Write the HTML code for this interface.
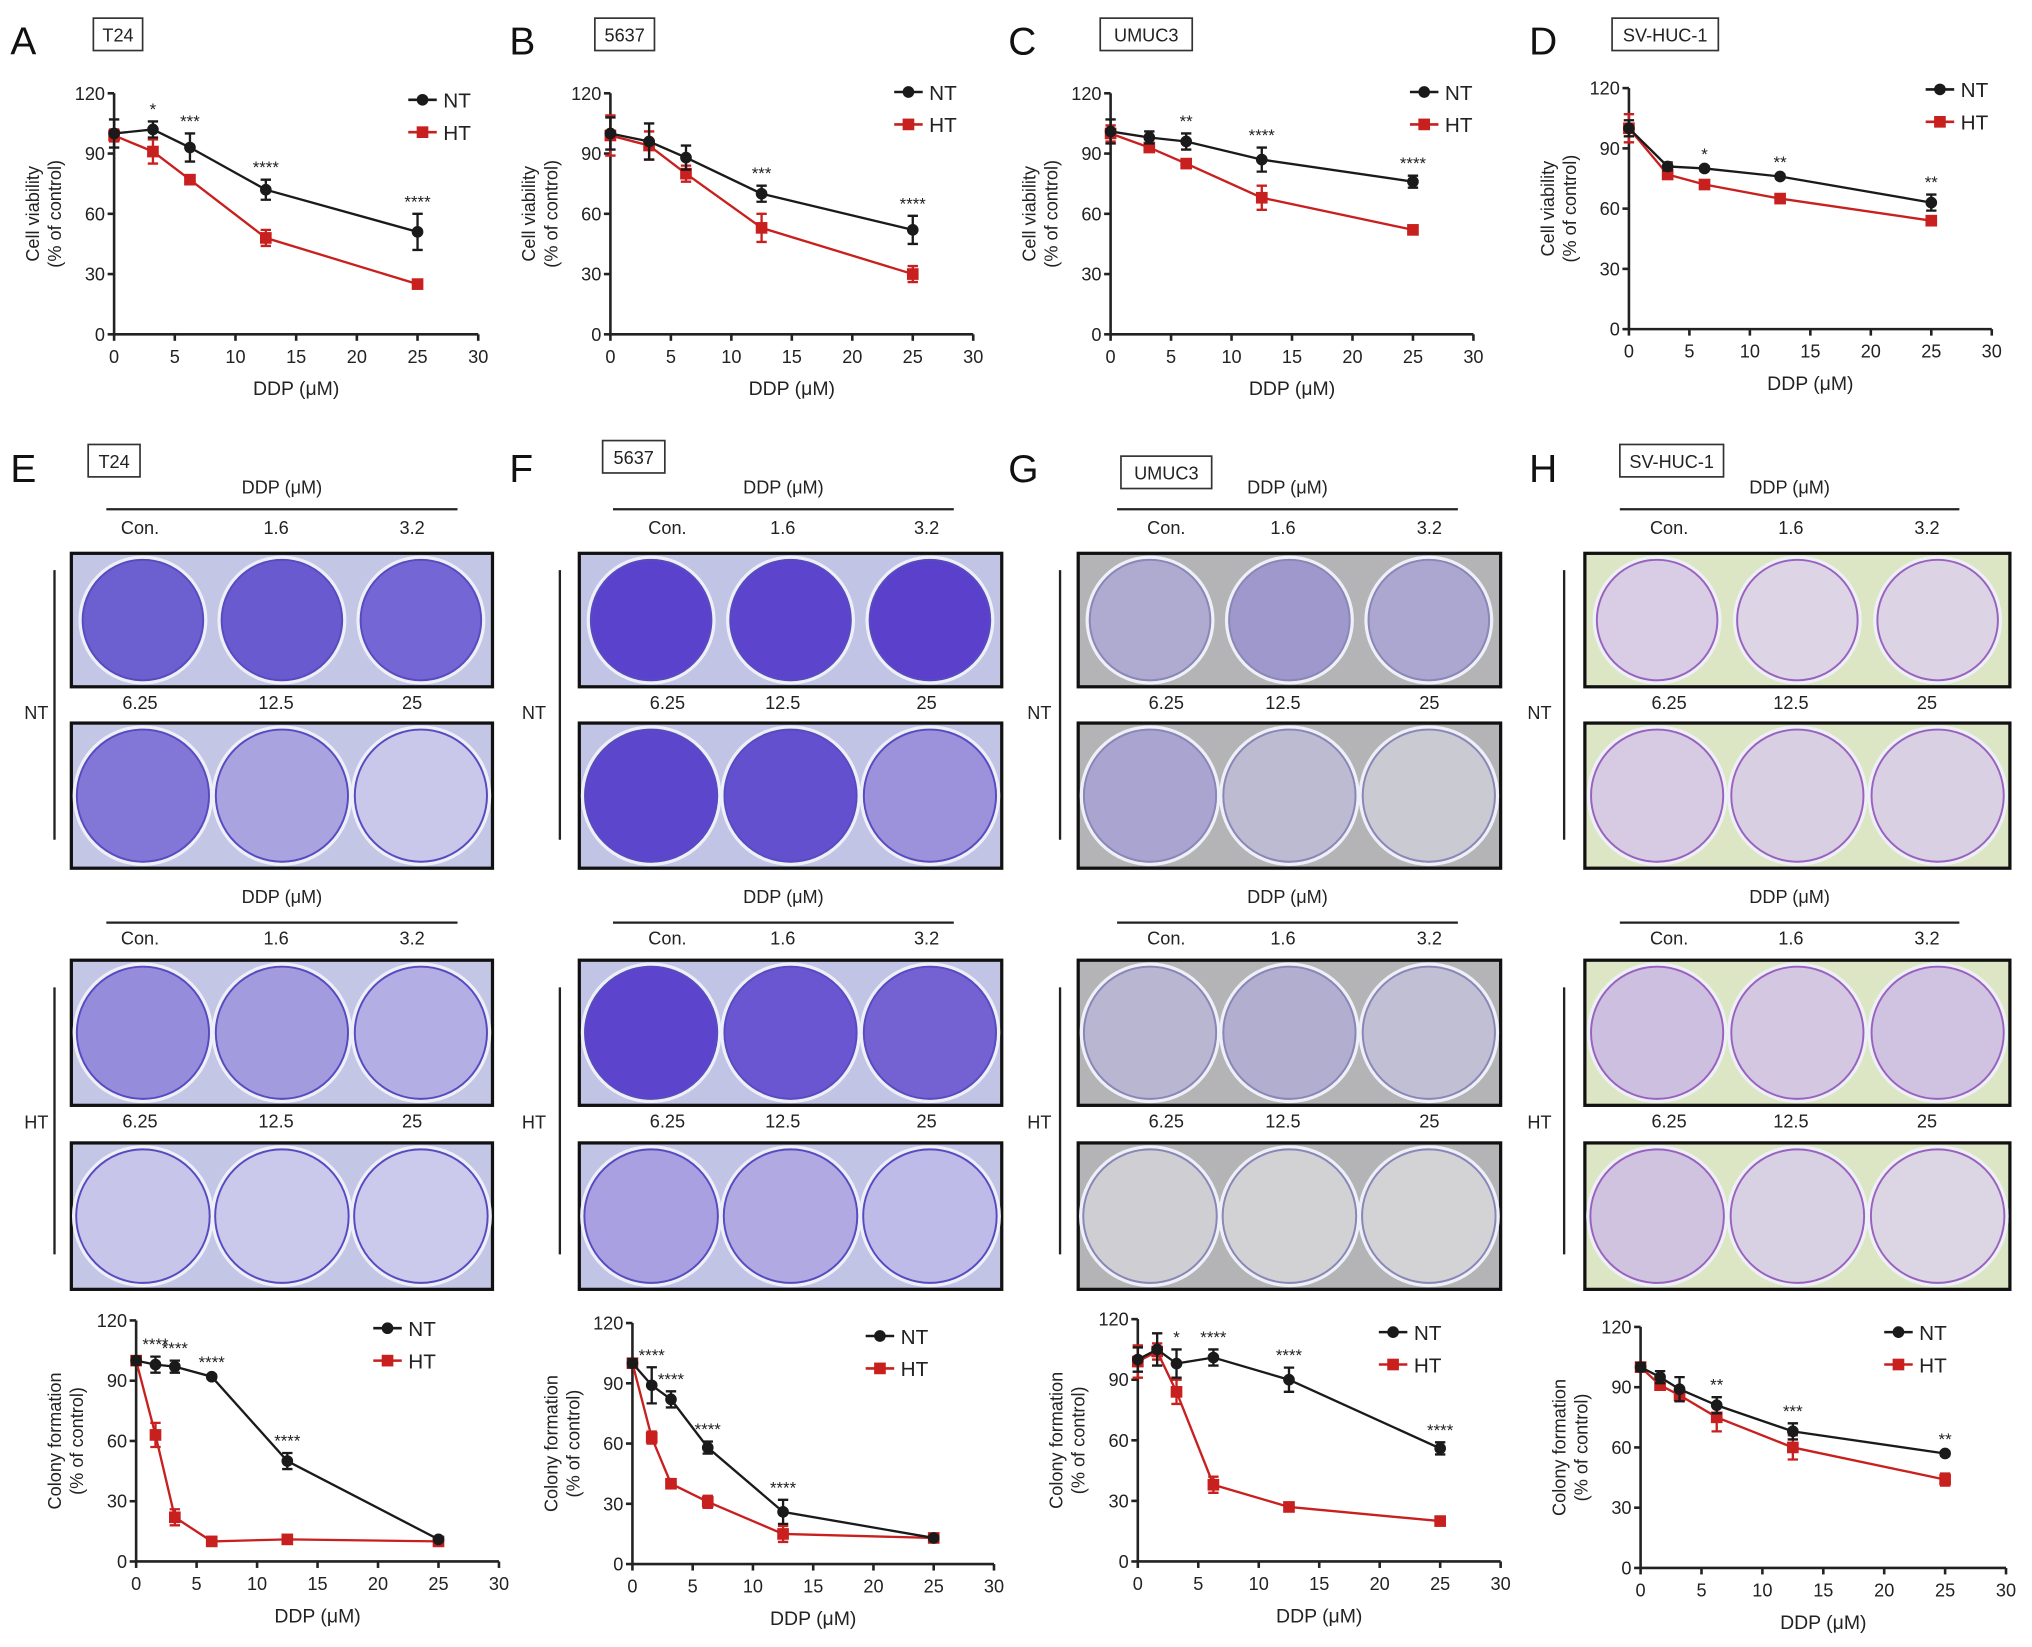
<!DOCTYPE html>
<html><head><meta charset="utf-8"><style>
html,body{margin:0;padding:0;background:#fff}
svg{display:block}
text{font-family:"Liberation Sans",Arial,sans-serif}
</style></head><body>
<svg id="fig" width="2032" height="1647" viewBox="0 0 1568 1271" xmlns="http://www.w3.org/2000/svg">
</svg>
<script>
// ---------- chart data ----------
const xsTop = [0, 3.2, 6.25, 12.5, 25];
const xsBot = [0, 1.6, 3.2, 6.25, 12.5, 25];
const yTicks = [0, 30, 60, 90, 120];
const xTicks = [0, 5, 10, 15, 20, 25, 30];
const aNT = [100, 102, 93, 72, 51];
const aHT = [99, 91, 77, 48, 25];
const aNTe = [7, 4, 7, 5, 9];
const aHTe = [3, 6, 2, 4, 1];
const aStars = ["", "*", "***", "****", "****"];
const bNT = [100, 96, 88, 70, 52];
const bHT = [99, 94, 80, 53, 30];
const bNTe = [8, 9, 6, 4, 7];
const bHTe = [10, 7, 4, 7, 4];
const bStars = ["", "", "", "***", "****"];
const cNT = [101, 98, 96, 87, 76];
const cHT = [100, 93, 85, 68, 52];
const cNTe = [6, 3, 4, 6, 3];
const cHTe = [4, 2, 2, 6, 1];
const cStars = ["", "", "**", "****", "****"];
const dNT = [100, 81, 80, 76, 63];
const dHT = [100, 77, 72, 65, 54];
const dNTe = [4, 2, 1, 1, 4];
const dHTe = [7, 2, 1, 1, 2];
const dStars = ["", "", "*", "**", "**"];
const eNT = [100, 98, 97, 92, 50, 11];
const eHT = [100, 63, 22, 10, 11, 10];
const eNTe = [2, 4, 3, 1, 4, 1];
const eHTe = [2, 6, 4, 1, 1, 1];
const eStars = ["", "****", "****", "****", "****", ""];
const fNT = [100, 89, 82, 58, 26, 13];
const fHT = [100, 63, 40, 31, 15, 13];
const fNTe = [2, 9, 4, 3, 6, 1];
const fHTe = [2, 3, 1, 3, 4, 1];
const fStars = ["", "****", "****", "****", "****", ""];
const gNT = [100, 105, 98, 101, 90, 56];
const gHT = [99, 104, 84, 38, 27, 20];
const gNTe = [6, 8, 7, 4, 6, 3];
const gHTe = [8, 4, 6, 4, 1, 1];
const gStars = ["", "", "*", "****", "****", "****"];
const hNT = [100, 95, 89, 81, 68, 57];
const hHT = [100, 91, 86, 75, 60, 44];
const hNTe = [2, 3, 6, 4, 4, 1];
const hHTe = [2, 2, 3, 7, 6, 3];
const hStars = ["", "", "", "**", "***", "**"];

const NS = "http://www.w3.org/2000/svg";
const svg = document.getElementById('fig');
function mk(tag, attrs, parent){
  const e = document.createElementNS(NS, tag);
  for (const k in attrs) e.setAttribute(k, attrs[k]);
  (parent||svg).appendChild(e);
  return e;
}
function txt(s, x, y, size, parent, anchor, extra){
  const t = mk('text', Object.assign({x:x, y:y, 'font-size':size, 'text-anchor':anchor||'middle', fill:'#222'}, extra||{}), parent);
  t.textContent = s;
  return t;
}

function chart(cfg){
  const g = mk('g', {});
  
  
  const X = v => cfg.x0 + (cfg.x30 - cfg.x0) * v / 30;
  const Y = v => cfg.y0 - (cfg.y0 - cfg.y120) * v / 120;
  const ax = mk('path', {d:`M${cfg.x0} ${cfg.y120}V${cfg.y0}H${cfg.x30}`, stroke:'#222', 'stroke-width':2, fill:'none'}, g);
  
  
  yTicks.forEach(v => {
    mk('line', {x1:cfg.x0-5, x2:cfg.x0, y1:Y(v), y2:Y(v), stroke:'#222', 'stroke-width':2}, g);
    const t = txt(String(v), cfg.x0-7, Y(v)+5, 14, g, 'end');
    
    
  });
  xTicks.forEach(v => {
    mk('line', {x1:X(v), x2:X(v), y1:cfg.y0, y2:cfg.y0+5, stroke:'#222', 'stroke-width':2}, g);
    const t = txt(String(v), X(v), cfg.y0+22, 14, g);
    
    
  });
  const xt = txt('DDP (μM)', (cfg.x0+cfg.x30)/2, cfg.y0+47, 15, g);
  
  
  const yc = (cfg.y0+cfg.y120)/2;
  const yt = mk('text', {transform:`translate(${cfg.x0-58},${yc}) rotate(-90)`, 'font-size':14, 'text-anchor':'middle', fill:'#222'}, g);
  
  
  const t1 = mk('tspan', {x:0, y:0}, yt); t1.textContent = cfg.ylabel;
  const t2 = mk('tspan', {x:0, y:17}, yt); t2.textContent = '(% of control)';
  const series = [
    {v:cfg.ht, e:cfg.hte, c:'#c8201e', sq:true, n:'HT'},
    {v:cfg.nt, e:cfg.nte, c:'#1a1a1a', sq:false, n:'NT'}
  ];
  series.forEach(s => {
    const sg = mk('g', {}, g);
    
    
    const d = cfg.xs.map((x,i) => (i?'L':'M') + X(x) + ' ' + Y(s.v[i])).join('');
    const ln = mk('path', {d:d, stroke:s.c, 'stroke-width':1.8, fill:'none'}, sg);
    
    
    cfg.xs.forEach((x,i) => {
      const cx = X(x), top = Y(s.v[i]+s.e[i]), bot = Y(s.v[i]-s.e[i]);
      mk('path', {d:`M${cx} ${top}V${bot}M${cx-4} ${top}H${cx+4}M${cx-4} ${bot}H${cx+4}`, stroke:s.c, 'stroke-width':1.8, fill:'none'}, sg);
      let m;
      if (s.sq) m = mk('rect', {x:cx-4.5, y:Y(s.v[i])-4.5, width:9, height:9, fill:s.c}, sg);
      else m = mk('circle', {cx:cx, cy:Y(s.v[i]), r:4.5, fill:s.c}, sg);
      
      
    });
  });
  cfg.stars.forEach((s,i) => {
    if (!s) return;
    const top = Math.max(cfg.nt[i]+cfg.nte[i], cfg.ht[i]+cfg.hte[i]);
    const t = txt(s, X(cfg.xs[i]), Y(top)-5, 13, g);
    
    
  });
  const lg = mk('g', {}, g);
  
  
  [['NT','#1a1a1a',false,0],['HT','#c8201e',true,25]].forEach(([n,c,sq,dy]) => {
    const ly = cfg.ly + dy;
    mk('line', {x1:cfg.lx, x2:cfg.lx+22, y1:ly, y2:ly, stroke:c, 'stroke-width':2}, lg);
    if (sq) mk('rect', {x:cfg.lx+6.5, y:ly-4.5, width:9, height:9, fill:c}, lg);
    else mk('circle', {cx:cfg.lx+11, cy:ly, r:4.5, fill:c}, lg);
    const t = txt(n, cfg.lx+27, ly+6, 16, lg, 'start');
    
    
  });
}

function panelLabel(letter, x, y, box, bx, by, bw){
  const t = txt(letter, x, y, 30, svg, 'start', {fill:'#111'});
  
  
  const r = mk('rect', {x:bx, y:by, width:bw, height:25, fill:'#fff', stroke:'#333', 'stroke-width':1.3});
  
  
  const bt = txt(box, bx+bw/2, by+18, 14, svg, 'middle');
  
  
}

panelLabel('A', 8, 42, 'T24', 72, 14, 38);
panelLabel('B', 393, 42, '5637', 459, 14, 46);
panelLabel('C', 778, 42, 'UMUC3', 849, 14, 71);
panelLabel('D', 1180, 42, 'SV-HUC-1', 1244, 14, 82);
chart({name:'chart-a', x0:88, x30:369, y0:258, y120:72, xs:xsTop, nt:aNT, ht:aHT, nte:aNTe, hte:aHTe, stars:aStars, ylabel:'Cell viability', lx:315, ly:77});
chart({name:'chart-b', x0:471, x30:751, y0:258, y120:72, xs:xsTop, nt:bNT, ht:bHT, nte:bNTe, hte:bHTe, stars:bStars, ylabel:'Cell viability', lx:690, ly:71});
chart({name:'chart-c', x0:857, x30:1137, y0:258, y120:72, xs:xsTop, nt:cNT, ht:cHT, nte:cNTe, hte:cHTe, stars:cStars, ylabel:'Cell viability', lx:1088, ly:71});
chart({name:'chart-d', x0:1257, x30:1537, y0:254, y120:68, xs:xsTop, nt:dNT, ht:dHT, nte:dNTe, hte:dHTe, stars:dStars, ylabel:'Cell viability', lx:1486, ly:69});

chart({name:'chart-e', x0:105, x30:385, y0:1205, y120:1019, xs:xsBot, nt:eNT, ht:eHT, nte:eNTe, hte:eHTe, stars:eStars, ylabel:'Colony formation', lx:288, ly:1025});
chart({name:'chart-f', x0:488, x30:767, y0:1207, y120:1021, xs:xsBot, nt:fNT, ht:fHT, nte:fNTe, hte:fHTe, stars:fStars, ylabel:'Colony formation', lx:668, ly:1031});
chart({name:'chart-g', x0:878, x30:1158, y0:1205, y120:1018, xs:xsBot, nt:gNT, ht:gHT, nte:gNTe, hte:gHTe, stars:gStars, ylabel:'Colony formation', lx:1064, ly:1028});
chart({name:'chart-h', x0:1266, x30:1548, y0:1210, y120:1024, xs:xsBot, nt:hNT, ht:hHT, nte:hNTe, hte:hHTe, stars:hStars, ylabel:'Colony formation', lx:1454, ly:1028});

// ---------- colony plates ----------
const plates = [
  {L:'E', box:'T24', bx:68, by:343, bw:40, x:55, w:325, lineX:[82,353], cols:[108,213,318], side:42, sideLbl:28,
   bg:'#c4c6e6', frame:'#111',
   nt:['#6c5fd0','#6a5acf','#7466d4','#8276d6','#a9a3e0','#c9c7ea'],
   ht:['#958ddc','#a29bde','#b3aee4','#c7c5ea','#cac8eb','#cbc9ec']},
  {L:'F', box:'5637', bx:465, by:340, bw:48, x:447, w:326, lineX:[473,736], cols:[515,604,715], side:432, sideLbl:412,
   bg:'#c2c4e6', frame:'#111',
   nt:['#5b42cc','#5c44cc','#5a40ca','#5c46cc','#6250cf','#9c92dc'],
   ht:['#5c44cc','#6a56d0','#7462d2','#a8a0e0','#b0a9e2','#bfbbe8']},
  {L:'G', box:'UMUC3', bx:865, by:352, bw:70, x:832, w:326, lineX:[862,1125], cols:[900,990,1103], side:818, sideLbl:802,
   bg:'#b4b4b6', frame:'#111',
   nt:['#aeaad0','#9f98cc','#aba7d0','#a9a4d0','#bdbbd2','#cacad2'],
   ht:['#b9b6d2','#b2aed0','#c0bfd4','#cfcfd3','#d2d2d4','#d3d3d5']},
  {L:'H', box:'SV-HUC-1', bx:1250, by:343, bw:80, x:1223, w:328, lineX:[1250,1512], cols:[1288,1382,1487], side:1207, sideLbl:1188,
   bg:'#dde6c4', frame:'#111',
   nt:['#d8cde4','#ddd4e6','#dcd3e4','#d6cbe2','#d8cfe3','#d9d1e3'],
   ht:['#cdbfe0','#d3c7e2','#d0c3e1','#cfc3e0','#d8d0e3','#dbd5e4']}
];
const rowsY = {ddp1:381, line1:393, col1:412, p1:[427,530], row2:547, p2:[558,670], ddp2:697, line2:712, col2:729, p3:[741,853], row4:870, p4:[882,995]};
const rowLabels = ['6.25','12.5','25'];
const colLabels = ['Con.','1.6','3.2'];

function plate(p, y0, y1, fills, rim, name){
  const g = mk('g', {});
  
  
  mk('rect', {x:p.x, y:y0, width:p.w, height:y1-y0, fill:p.bg, stroke:p.frame, 'stroke-width':2.5}, g);
  const h = y1-y0, rad = h/2 - 5;
  [0.17,0.5,0.83].forEach((f,i) => {
    const cx = p.x + p.w*f, cy = (y0+y1)/2;
    mk('circle', {cx:cx, cy:cy, r:rad+2, fill:'none', stroke:'#eef0f8', 'stroke-width':2.5}, g);
    const c = mk('circle', {cx:cx, cy:cy, r:rad, fill:fills[i], stroke:rim, 'stroke-width':1.5}, g);
    
    
  });
}

plates.forEach(p => {
  panelLabel(p.L, p.L==='H'?1180:(p.L==='E'?8:(p.L==='F'?393:778)), 372, p.box, p.bx, p.by, p.bw);
  const mid = (p.lineX[0]+p.lineX[1])/2;
  [[rowsY.ddp1,rowsY.line1,rowsY.col1],[rowsY.ddp2,rowsY.line2,rowsY.col2]].forEach(([dy,ly,cy]) => {
    const t = txt('DDP (μM)', mid, dy, 14, svg);
    
    
    mk('line', {x1:p.lineX[0], x2:p.lineX[1], y1:ly, y2:ly, stroke:'#222', 'stroke-width':1.8});
    p.cols.forEach((x,i) => {
      const c = txt(colLabels[i], x, cy, 14, svg);
      
      
    });
  });
  [rowsY.row2, rowsY.row4].forEach(y => {
    p.cols.forEach((x,i) => {
      const c = txt(rowLabels[i], x, y, 14, svg);
      
      
    });
  });
  const rim = p.L==='H' ? '#9a62c0' : (p.L==='G' ? '#8a86b8' : '#5a4ac0');
  plate(p, rowsY.p1[0], rowsY.p1[1], p.nt.slice(0,3), rim, 'plate-nt-low');
  plate(p, rowsY.p2[0], rowsY.p2[1], p.nt.slice(3), rim, 'plate-nt-high');
  plate(p, rowsY.p3[0], rowsY.p3[1], p.ht.slice(0,3), rim, 'plate-ht-low');
  plate(p, rowsY.p4[0], rowsY.p4[1], p.ht.slice(3), rim, 'plate-ht-high');
  mk('line', {x1:p.side, x2:p.side, y1:440, y2:648, stroke:'#222', 'stroke-width':1.8});
  mk('line', {x1:p.side, x2:p.side, y1:762, y2:968, stroke:'#222', 'stroke-width':1.8});
  const a = txt('NT', p.sideLbl, 555, 14, svg);
  
  
  const b = txt('HT', p.sideLbl, 871, 14, svg);
  
  
});
</script>
</body></html>
